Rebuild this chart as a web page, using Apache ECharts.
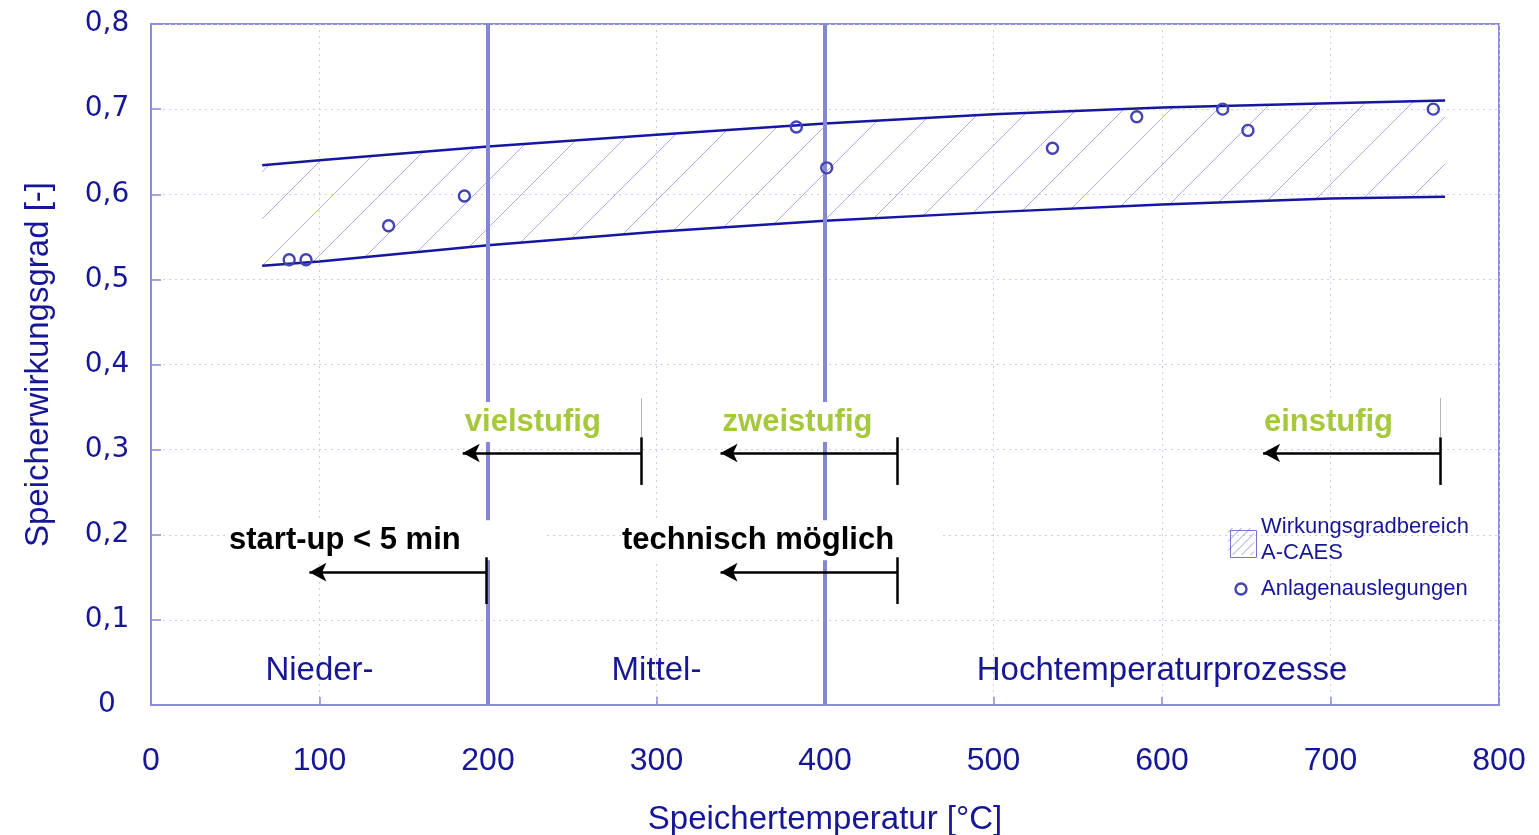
<!DOCTYPE html>
<html>
<head>
<meta charset="utf-8">
<script src="https://cdn.jsdelivr.net/npm/echarts@6/dist/echarts.min.js"></script>
<style>
  html, body { margin: 0; padding: 0; background: #fff; }
  #chart { width: 1539px; height: 835px; }
</style>
</head>
<body>
<div id="chart"></div>
<script>
// Axis ticks
const xTickLabels = ['0', '100', '200', '300', '400', '500', '600', '700', '800'];
const yTickLabels = ['0', '0,1', '0,2', '0,3', '0,4', '0,5', '0,6', '0,7', '0,8'];

// Efficiency band of A-CAES over storage temperature
const bandTemp = [66, 100, 200, 300, 400, 500, 600, 700, 768];
const effUpper = [0.634, 0.640, 0.656, 0.670, 0.683, 0.694, 0.702, 0.707, 0.710];
const effLower = [0.516, 0.521, 0.540, 0.556, 0.569, 0.579, 0.588, 0.595, 0.597];

// Plant designs
const designTemp = [82, 92, 141, 186, 383, 401, 535, 585, 636, 651, 761];
const designEff = [0.523, 0.523, 0.563, 0.598, 0.679, 0.631, 0.654, 0.691, 0.700, 0.675, 0.700];

// Process temperature regions
const regionBounds = [200, 400];
const regionNames = ['Nieder-', 'Mittel-', 'Hochtemperaturprozesse'];
const regionLabelTemp = [100, 300, 600];
const regionLabelEff = 0.0395;

// Compressor staging (green) with arrows pointing to lower temperatures
const stageNames = ['vielstufig', 'zweistufig', 'einstufig'];
const stageTail = [291, 443, 765];
const stageHead = [185, 338, 660];
const stageGuide = [true, false, true];
const stageArrowEff = 0.296;
const stageBar = [0.3145, 0.2585];
const stageGuideTop = 0.3605;
const stageLabelTemp = [226.6, 383.7, 698.8];
const stageLabelEff = 0.3325;

// Start-up capability rows
const startNames = ['start-up < 5 min', 'technisch möglich'];
const startTail = [199, 443];
const startHead = [94, 338];
const startArrowEff = 0.156;
const startBar = [0.1735, 0.1187];
const startLabelTemp = [139.7, 373.3];
const startLabelEff = 0.1935;

const TEXT = '#161696';
const FRAME = '#8c8cd8';
const CURVE = '#1616a0';
const HATCH = '#acacE6';
const SANS = '"Liberation Sans", Arial, sans-serif';

const upperData = bandTemp.map(function (t, i) { return [t, effUpper[i]]; });
const lowerData = bandTemp.map(function (t, i) { return [t, effLower[i]]; });
const designData = designTemp.map(function (t, i) { return [t, designEff[i]]; });

// Pixel y of a polyline at pixel x (linear between vertices)
function polyY(pts, x) {
  if (x <= pts[0][0]) return pts[0][1];
  for (let i = 1; i < pts.length; i++) {
    if (x <= pts[i][0]) {
      const f = (x - pts[i - 1][0]) / (pts[i][0] - pts[i - 1][0]);
      return pts[i - 1][1] + f * (pts[i][1] - pts[i - 1][1]);
    }
  }
  return pts[pts.length - 1][1];
}
// x where the hatch line y = k - x meets the polyline (bisection; the difference is monotonic)
function meet(pts, k, lo, hi) {
  const g = function (x) { return polyY(pts, x) - (k - x); };
  if (g(lo) >= 0) return lo;
  if (g(hi) <= 0) return hi;
  for (let n = 0; n < 40; n++) {
    const m = (lo + hi) / 2;
    if (g(m) < 0) lo = m; else hi = m;
  }
  return (lo + hi) / 2;
}

// Hatched band: diagonal lines between the lower and upper edge
const HATCH_STEP = 47, HATCH_PHASE = 11;
function renderBand(params, api) {
  const up = bandTemp.map(function (t, i) { return api.coord([t, effUpper[i]]); });
  const lo = bandTemp.map(function (t, i) { return api.coord([t, effLower[i]]); });
  const x0 = up[0][0], x1 = up[up.length - 1][0];
  const kMin = x0 + Math.min.apply(null, up.map(function (p) { return p[1]; }));
  const kMax = x1 + Math.max.apply(null, lo.map(function (p) { return p[1]; }));
  const children = [];
  let k = Math.ceil((kMin - HATCH_PHASE) / HATCH_STEP) * HATCH_STEP + HATCH_PHASE;
  for (; k <= kMax; k += HATCH_STEP) {
    // enters through the lower edge (or left side), leaves through the upper edge (or right side)
    const xa = meet(lo, k, x0, x1);
    const xb = meet(up, k, x0, x1);
    const ya = k - xa, yb = k - xb;
    if (xb - xa < 0.5) continue;
    if (ya > polyY(lo, xa) + 0.5 || yb < polyY(up, xb) - 0.5) continue;
    children.push({
      type: 'line',
      shape: { x1: xa, y1: Math.min(ya, polyY(lo, xa)), x2: xb, y2: Math.max(yb, polyY(up, xb)) },
      style: { stroke: HATCH, lineWidth: 1 }
    });
  }
  return { type: 'group', children: children };
}

// Text labels placed in data coordinates
const labelData = [];
regionNames.forEach(function (n, i) {
  labelData.push({
    value: [regionLabelTemp[i], regionLabelEff], name: n,
    label: { color: TEXT, fontSize: 33, fontFamily: SANS }
  });
});
stageNames.forEach(function (n, i) {
  labelData.push({
    value: [stageLabelTemp[i], stageLabelEff], name: n,
    label: {
      color: '#a6c83c', fontSize: 31, fontWeight: 'bold', fontFamily: SANS,
      backgroundColor: '#fff', padding: [4, 4], lineHeight: 32
    }
  });
});
const startPad = [[4, 84, 4, 1], [4, 45, 4, 1]];
startNames.forEach(function (n, i) {
  labelData.push({
    value: [startLabelTemp[i], startLabelEff], name: n,
    label: {
      color: '#000', fontSize: 31, fontWeight: 'bold', fontFamily: SANS,
      backgroundColor: '#fff', padding: startPad[i], lineHeight: 32
    }
  });
});

// Arrows and their tail bars
const arrowLines = [];
const plainEnd = { symbol: 'none' };
stageNames.forEach(function (n, i) {
  arrowLines.push([{ coord: [stageTail[i], stageArrowEff] }, { coord: [stageHead[i], stageArrowEff] }]);
  arrowLines.push([
    Object.assign({ coord: [stageTail[i], stageBar[0]] }, plainEnd),
    Object.assign({ coord: [stageTail[i], stageBar[1]] }, plainEnd)
  ]);
  if (stageGuide[i]) {
    arrowLines.push([
      Object.assign({ coord: [stageTail[i], stageGuideTop], lineStyle: { color: '#b4b4b4', width: 1 } }, plainEnd),
      Object.assign({ coord: [stageTail[i], stageBar[0]] }, plainEnd)
    ]);
  }
});
startNames.forEach(function (n, i) {
  arrowLines.push([{ coord: [startTail[i], startArrowEff] }, { coord: [startHead[i], startArrowEff] }]);
  arrowLines.push([
    Object.assign({ coord: [startTail[i], startBar[0]] }, plainEnd),
    Object.assign({ coord: [startTail[i], startBar[1]] }, plainEnd)
  ]);
});

// Legend swatch: small hatched square
function swatchHatch(left, top, w, h, step) {
  const out = [];
  for (let k = step / 2; k < w + h; k += step) {
    const xa = Math.max(0, k - h), xb = Math.min(w, k);
    if (xb <= xa) continue;
    out.push({
      type: 'line', z: 10,
      shape: { x1: left + xa, y1: top + (k - xa), x2: left + xb, y2: top + (k - xb) },
      style: { stroke: '#9a9ade', lineWidth: 1 }
    });
  }
  return out;
}

const chart = echarts.init(document.getElementById('chart'), null, { renderer: 'canvas' });

chart.setOption({
  animation: false,
  backgroundColor: '#fff',
  grid: {
    left: 151, right: 40, top: 24, bottom: 130,
    outerBoundsMode: 'none', containLabel: false,
    show: true, borderColor: FRAME, borderWidth: 2, backgroundColor: 'transparent'
  },
  xAxis: {
    type: 'value', min: 0, max: 800, interval: 100,
    name: 'Speichertemperatur [°C]', nameLocation: 'middle', nameGap: 98,
    nameTextStyle: { color: TEXT, fontSize: 33, fontFamily: SANS },
    axisLine: { show: true, lineStyle: { color: FRAME, width: 2 } },
    axisTick: { show: true, inside: true, length: 8, lineStyle: { color: FRAME, width: 1.5 } },
    axisLabel: {
      color: TEXT, fontSize: 32, fontFamily: SANS, margin: 40,
      formatter: function (v, i) { return xTickLabels[i]; }
    },
    splitLine: { show: true, lineStyle: { color: '#cdcdef', width: 1, type: [2, 4] } }
  },
  yAxis: {
    type: 'value', min: 0, max: 0.8, interval: 0.1,
    name: 'Speicherwirkungsgrad [-]', nameLocation: 'middle', nameGap: 96, nameRotate: 90,
    nameTextStyle: { color: TEXT, fontSize: 33, fontFamily: SANS },
    axisLine: { show: true, lineStyle: { color: FRAME, width: 2 } },
    axisTick: { show: true, inside: true, length: 10, lineStyle: { color: FRAME, width: 1.5 } },
    axisLabel: {
      color: TEXT, fontSize: 28, fontFamily: '"DejaVu Sans", sans-serif', margin: 44, align: 'center',
      formatter: function (v, i) { return yTickLabels[i]; }
    },
    splitLine: { show: true, lineStyle: { color: '#cdcdef', width: 1, type: [2, 4] } }
  },
  series: [
    {
      name: 'Wirkungsgradbereich A-CAES', type: 'custom', data: [0], z: 2, silent: true,
      renderItem: renderBand
    },
    {
      name: 'upper', type: 'line', data: upperData, smooth: false,
      symbol: 'none', z: 2, lineStyle: { color: CURVE, width: 2.5 }
    },
    {
      name: 'lower', type: 'line', data: lowerData, smooth: false,
      symbol: 'none', z: 2, lineStyle: { color: CURVE, width: 2.5 }
    },
    {
      name: 'regions', type: 'line', data: [], z: 3, silent: true,
      markLine: {
        z: 3, silent: true, symbol: 'none', label: { show: false },
        lineStyle: { color: '#8686d6', width: 4, type: 'solid' },
        data: regionBounds.map(function (b) { return { xAxis: b }; })
      }
    },
    {
      name: 'labels', type: 'scatter', data: labelData, z: 4, silent: true,
      symbolSize: 1, itemStyle: { color: 'rgba(0,0,0,0)', opacity: 1 },
      label: { show: true, position: 'inside', formatter: function (p) { return p.name; } }
    },
    {
      name: 'arrows', type: 'line', data: [], z: 5, silent: true,
      markLine: {
        z: 5, silent: true, symbol: ['none', 'arrow'], symbolSize: [14, 17], label: { show: false },
        lineStyle: { color: '#000', width: 2.5, type: 'solid' },
        data: arrowLines
      }
    },
    {
      name: 'Anlagenauslegungen', type: 'scatter', data: designData, z: 6,
      symbol: 'circle', symbolSize: 11,
      itemStyle: { color: 'rgba(255,255,255,0)', borderColor: '#4343b4', borderWidth: 2.4, opacity: 1 }
    }
  ],
  graphic: swatchHatch(1228, 528, 26, 27, 9).concat([
    {
      type: 'rect', left: 1228, top: 528, z: 11,
      shape: { width: 26, height: 27 },
      style: { fill: 'none', stroke: '#7474cc', lineWidth: 1 }
    },
    {
      type: 'text', left: 1261, top: 514, z: 10,
      style: {
        text: 'Wirkungsgradbereich\nA-CAES', fill: TEXT, font: '22px ' + SANS, lineHeight: 26
      }
    },
    {
      type: 'circle', z: 10,
      shape: { cx: 1241, cy: 589, r: 5.5 },
      style: { fill: 'none', stroke: '#4343b4', lineWidth: 2.4 }
    },
    {
      type: 'text', left: 1261, top: 576, z: 10,
      style: { text: 'Anlagenauslegungen', fill: TEXT, font: '22px ' + SANS, lineHeight: 26 }
    }
  ])
});
</script>
</body>
</html>
